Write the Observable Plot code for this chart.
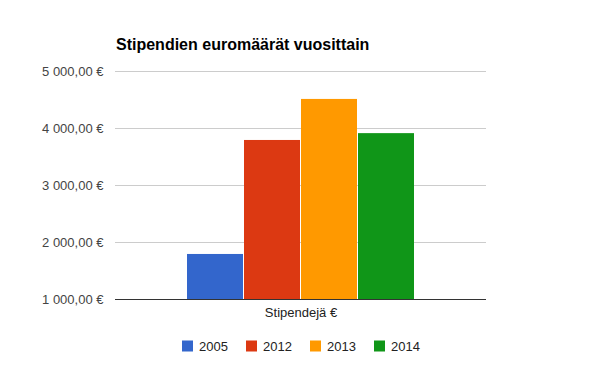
<!DOCTYPE html>
<html>
<head>
<meta charset="utf-8">
<script src="https://cdn.jsdelivr.net/npm/d3@7"></script>
<script src="https://cdn.jsdelivr.net/npm/@observablehq/plot@0.6"></script>
<style>
  html, body { margin: 0; padding: 0; background: #fff; }
  #chart { width: 600px; height: 371px; }
  svg { font-family: Arial, "Liberation Sans", sans-serif; }
</style>
</head>
<body>
<div id="chart"></div>
<script>
const title = "Stipendien euromäärät vuosittain";
const categoryLabel = "Stipendejä €";
const years = ["2005", "2012", "2013", "2014"];
const values = [1790, 3790, 4510, 3910];
const colors = ["#3366cc", "#dc3912", "#ff9900", "#109618"];
const yTicks = [1000, 2000, 3000, 4000, 5000];

const data = years.map((year, i) => ({year, value: values[i]}));
const fmt = n => `${Math.floor(n / 1000)} ${String(n % 1000).padStart(3, "0")},00 €`;

const chart = Plot.plot({
  width: 600,
  height: 371,
  marginTop: 71,
  marginBottom: 72,
  marginLeft: 115,
  marginRight: 114,
  style: {fontFamily: "Arial, 'Liberation Sans', sans-serif", background: "#fff"},
  x: {domain: years, paddingInner: 1 / 57, paddingOuter: 1.263, axis: null},
  y: {domain: [1000, 5000], axis: null},
  color: {domain: years, range: colors},
  marks: [
    Plot.gridY(yTicks.filter(t => t > 1000), {stroke: "#cccccc", strokeOpacity: 1}),
    Plot.axisY(yTicks, {tickSize: 0, tickPadding: 12, tickFormat: fmt, fontSize: 13, fill: "#444444", label: null}),
    Plot.barY(data, {x: "year", y1: 1000, y2: "value", fill: "year"}),
    Plot.ruleY([1000], {stroke: "#333333"}),
    Plot.text([categoryLabel], {frameAnchor: "bottom", lineAnchor: "middle", dy: 13, fontSize: 13, fill: "#222222"})
  ]
});
document.getElementById("chart").appendChild(chart);

const svg = d3.select(chart);
svg.append("text")
  .attr("x", 116).attr("y", 49.5)
  .attr("text-anchor", "start")
  .attr("font-size", 16).attr("font-weight", "bold").attr("fill", "#000")
  .attr("font-family", "Arial, 'Liberation Sans', sans-serif")
  .text(title);

const legend = svg.append("g").attr("font-family", "Arial, 'Liberation Sans', sans-serif").attr("text-anchor", "start");
const legendStart = 182, legendStep = 64;
years.forEach((y, i) => {
  const x = legendStart + i * legendStep;
  legend.append("rect").attr("x", x).attr("y", 340.5).attr("width", 11).attr("height", 11).attr("fill", colors[i]);
  legend.append("text").attr("x", x + 17).attr("y", 350.5).attr("font-size", 13).attr("fill", "#222222").text(y);
});
</script>
</body>
</html>
